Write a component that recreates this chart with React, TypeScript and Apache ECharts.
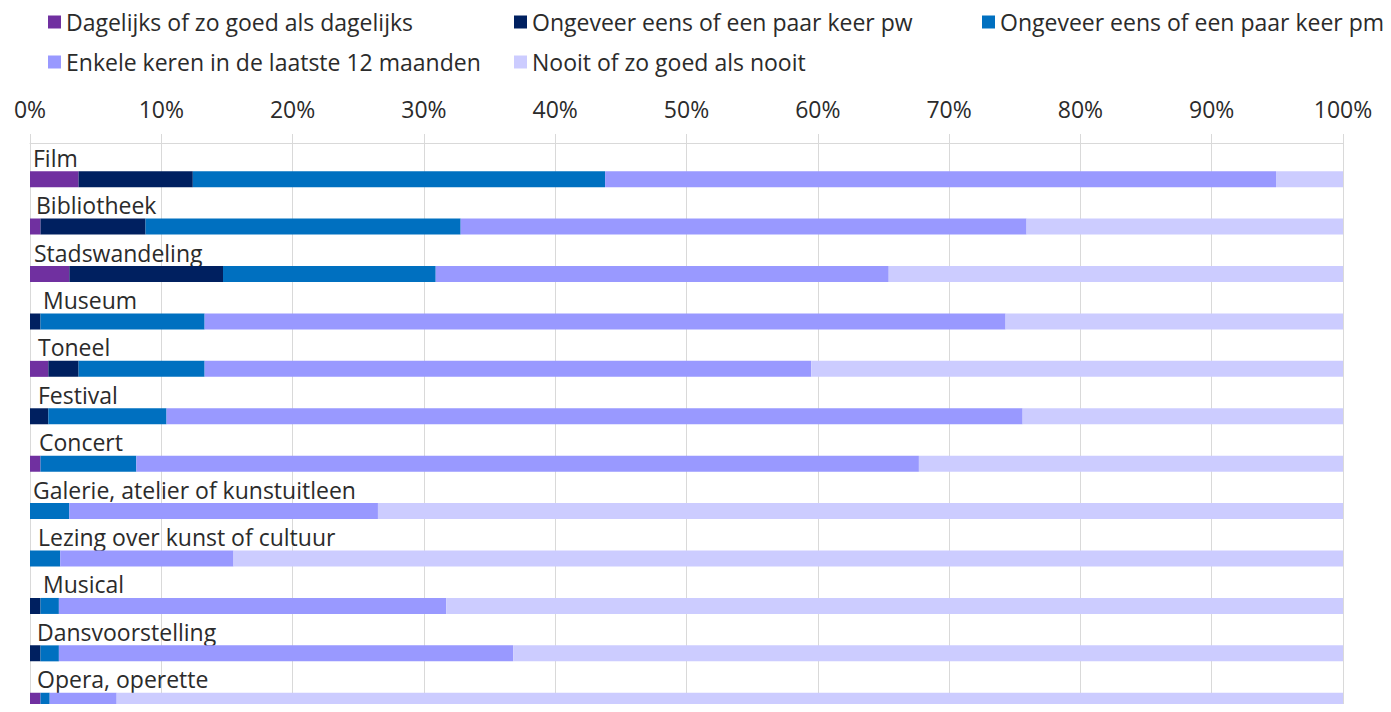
import React, { useEffect, useRef } from "react";
import * as echarts from "echarts";

const categories = [
  "Film",
  "Bibliotheek",
  "Stadswandeling",
  "Museum",
  "Toneel",
  "Festival",
  "Concert",
  "Galerie, atelier of kunstuitleen",
  "Lezing over kunst of cultuur",
  "Musical",
  "Dansvoorstelling",
  "Opera, operette",
];

const seriesNames = [
  "Dagelijks of zo goed als dagelijks",
  "Ongeveer eens of een paar keer pw",
  "Ongeveer eens of een paar keer pm",
  "Enkele keren in de laatste 12 maanden",
  "Nooit of zo goed als nooit",
];

const dagelijks = [3.7, 0.8, 3.0, 0, 1.4, 0, 0.8, 0, 0, 0, 0, 0.8];
const perWeek = [8.7, 8.0, 11.7, 0.8, 2.3, 1.4, 0, 0, 0, 0.8, 0.8, 0];
const perMaand = [31.4, 24.0, 16.2, 12.5, 9.6, 9.0, 7.3, 3.0, 2.3, 1.4, 1.4, 0.7];
const enkele = [51.1, 43.1, 34.5, 61.0, 46.2, 65.2, 59.6, 23.5, 13.2, 29.5, 34.6, 5.1];
const nooit = [5.1, 24.1, 34.6, 25.7, 40.5, 24.4, 32.3, 73.5, 84.5, 68.3, 63.2, 93.4];

const xTicks = [0, 10, 20, 30, 40, 50, 60, 70, 80, 90, 100];

const colors = ["#7030A0", "#002060", "#0070C0", "#9999FF", "#CCCCFF"];
const labelIndent = [0, 3, 1, 10, 5, 5, 6, 0, 5, 10, 4, 4];

const FONT = "'Open Sans', sans-serif";
const FS = 23;
const TEXT = "#2b2b2b";
const GRID = "#d9d9d9";

export default function App() {
  const ref = useRef<HTMLDivElement>(null);

  useEffect(() => {
    if (!ref.current) return;
    const chart = echarts.init(ref.current, undefined, { renderer: "svg" });

    const values = [dagelijks, perWeek, perMaand, enkele, nooit];
    const rich: Record<string, any> = {};
    labelIndent.forEach((w, i) => {
      rich["s" + i] = { width: w, fontSize: FS, fontFamily: FONT };
    });

    const legendCommon = {
      orient: "vertical" as const,
      top: 5,
      itemWidth: 13,
      itemHeight: 13,
      itemGap: 16,
      icon: "rect",
      selectedMode: false,
      textStyle: { fontSize: FS, fontFamily: FONT, color: TEXT, lineHeight: 24 },
    };

    chart.setOption({
      animation: false,
      textStyle: { fontFamily: FONT },
      color: colors,
      legend: [
        { ...legendCommon, left: 43, data: [seriesNames[0], seriesNames[3]] },
        { ...legendCommon, left: 509, data: [seriesNames[1], seriesNames[4]] },
        { ...legendCommon, left: 977, data: [seriesNames[2]] },
      ],
      grid: { left: 30, right: 48, top: 143, height: 571, containLabel: false },
      xAxis: {
        type: "value",
        position: "top",
        min: xTicks[0],
        max: xTicks[xTicks.length - 1],
        interval: xTicks[1] - xTicks[0],
        axisLine: { show: true, lineStyle: { color: GRID, width: 1 } },
        axisTick: { show: true, length: 9, lineStyle: { color: GRID } },
        splitLine: { show: true, lineStyle: { color: GRID, width: 1 } },
        axisLabel: {
          formatter: "{value}%",
          fontSize: FS,
          fontFamily: FONT,
          color: TEXT,
          margin: 23,
        },
      },
      yAxis: {
        type: "category",
        inverse: true,
        data: categories,
        axisLine: { show: false },
        axisTick: { show: false },
        splitLine: { show: false },
        axisLabel: {
          inside: true,
          margin: 3,
          fontSize: FS,
          fontFamily: FONT,
          color: TEXT,
          verticalAlign: "middle",
          padding: [0, 0, 18, 0],
          formatter: (v: string, i: number) => `{s${i}| }${v}`,
          rich,
        },
      },
      series: [
        {
          name: "spacer",
          type: "bar",
          data: categories.map(() => 0),
          barWidth: 16,
          barGap: "56%",
          silent: true,
          itemStyle: { color: "transparent" },
        },
        ...seriesNames.map((name, k) => ({
          name,
          type: "bar",
          stack: "total",
          barWidth: 16,
          barGap: "56%",
          data: values[k],
          itemStyle: { color: colors[k] },
        })),
      ],
    });

    return () => chart.dispose();
  }, []);

  return <div ref={ref} style={{ width: 1391, height: 712, margin: -8 }} />;
}
